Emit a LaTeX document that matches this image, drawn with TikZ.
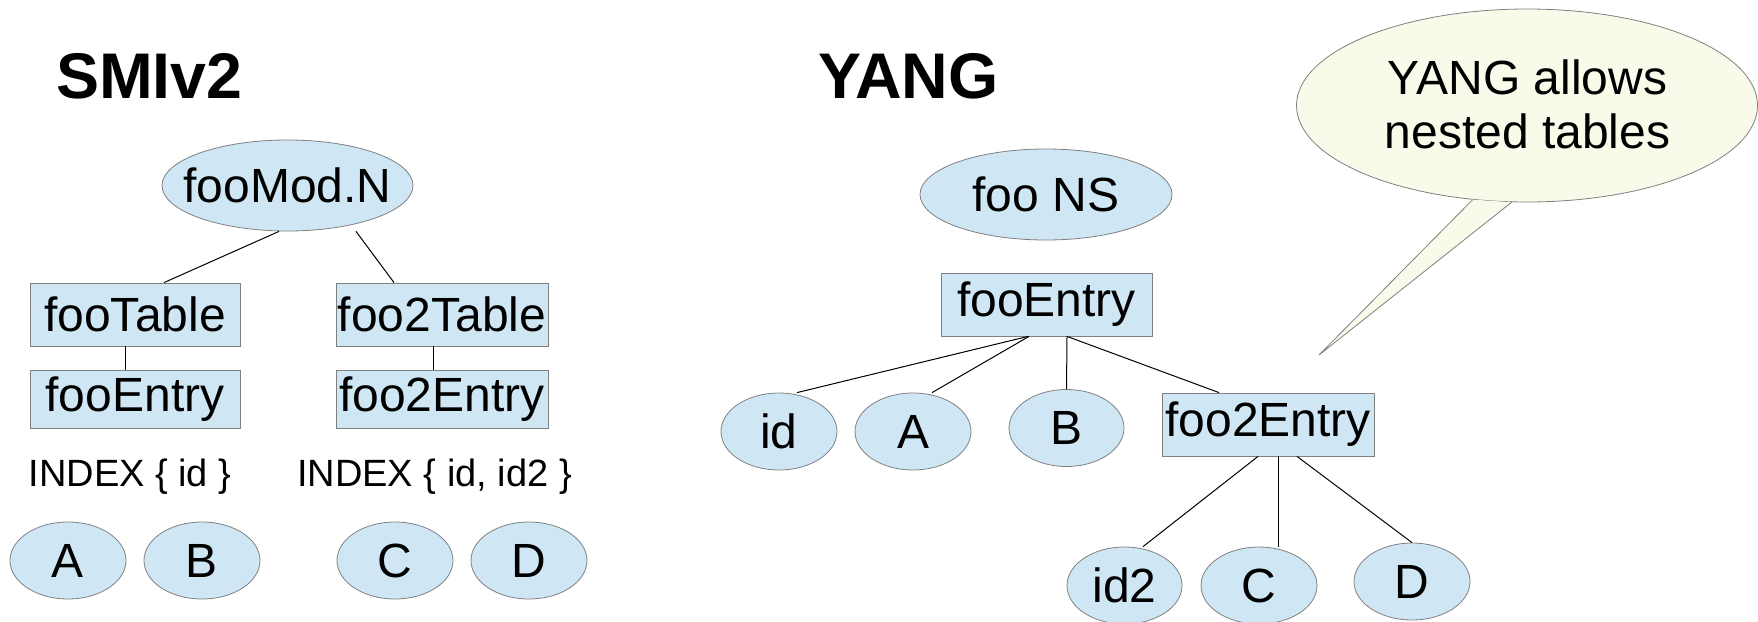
\documentclass[tikz,border=0pt]{standalone}
\usepackage{fontspec}
\setmainfont{Liberation Sans}
\usetikzlibrary{shapes.geometric,calc}
\definecolor{nodefill}{HTML}{CFE7F5}
\definecolor{nodeline}{HTML}{808080}
\definecolor{calloutfill}{HTML}{FAFAEA}
\tikzset{
  ell/.style={ellipse, draw=nodeline, fill=nodefill, line width=0.8pt, inner sep=0pt,
    minimum width=116pt, minimum height=77pt, font=\fontsize{48}{56}\selectfont},
  bigell/.style={ell, minimum width=251pt, minimum height=91pt},
  tbox/.style={rectangle, draw=nodeline, fill=nodefill, line width=0.8pt, inner sep=0pt,
    minimum width=211pt, minimum height=63pt, font=\fontsize{48}{56}\selectfont},
  title/.style={anchor=base west, inner sep=0pt, font=\fontsize{64.5}{72}\selectfont\bfseries},
  idx/.style={anchor=base, inner sep=0pt, font=\fontsize{38}{44}\selectfont},
  conn/.style={draw=black, line width=1pt},
  callout/.style={fill=calloutfill, draw=nodeline, line width=0.8pt, line join=miter}
}
\begin{document}
\begin{tikzpicture}[x=1pt,y=-1pt]
\useasboundingbox (0,0) rectangle (1758,621);
\fill[white] (0,0) rectangle (1758,621);

% titles
\node[title] (smi) at (56,98) {SMIv2};
\node[title] (yang) at (818,98) {YANG};

% ---------- SMIv2 ----------
\node[bigell] (fooMod) at (287.5,185.5) {\makebox[0pt]{fooMod.N}};
\node[tbox, minimum width=210pt] (fooTable) at (135,314.5) {fooTable};
\node[tbox, minimum width=212pt] (foo2Table) at (442,314.5) {foo2Table};
\node[tbox, minimum width=210pt, minimum height=58pt] (fooEntryL) at (135,399) {fooEntry};
\node[tbox, minimum width=212pt, minimum height=58pt] (foo2EntryL) at (442,399) {foo2Entry};
\node[idx] (idx1) at (130,486) {INDEX \{ id \}};
\node[idx] (idx2) at (434.5,486) {INDEX \{ id, id2 \}};
\node[ell] (LA) at (68,560.5) {A};
\node[ell] (LB) at (202,560.5) {B};
\node[ell] (LC) at (395,560.5) {C};
\node[ell] (LD) at (529,560.5) {D};

\draw[conn] ([xshift=-8.5pt]fooMod.south) -- ([xshift=29pt]fooTable.north);
\draw[conn] ([xshift=68.5pt]fooMod.south) -- ([xshift=-48pt]foo2Table.north);
\draw[conn] ([xshift=-10pt]fooTable.south) -- ([xshift=-10pt]fooEntryL.north);
\draw[conn] ([xshift=-9pt]foo2Table.south) -- ([xshift=-9pt]foo2EntryL.north);

% ---------- YANG ----------
\node[bigell, minimum width=252pt] (fooNS) at (1046,194.5) {\makebox[0pt]{foo NS}};
\node[tbox] (fooEntryR) at (1046.5,304.5) {fooEntry};
\node[ell] (Rid) at (779,431.5) {id};
\node[ell] (RA) at (913,431.5) {A};
\node[ell, minimum width=115pt] (RB) at (1066.5,428) {B};
\node[tbox, minimum width=212pt] (foo2EntryR) at (1268,424.5) {foo2Entry};
\node[ell, minimum width=115pt] (Rid2) at (1124.5,585.5) {id2};
\node[ell] (RC) at (1259,585.5) {C};
\node[ell] (RD) at (1412,581.5) {D};

\draw[conn] ([xshift=-18.5pt]fooEntryR.south) -- ([xshift=18pt]Rid.north);
\draw[conn] ([xshift=-17.5pt]fooEntryR.south) -- ([xshift=19pt]RA.north);
\draw[conn] ([xshift=20.5pt]fooEntryR.south) -- (RB.north);
\draw[conn] ([xshift=20.5pt]fooEntryR.south) -- ([xshift=-49pt]foo2EntryR.north);
\draw[conn] ([xshift=-10pt]foo2EntryR.south) -- ([xshift=18.5pt]Rid2.north);
\draw[conn] ([xshift=10pt]foo2EntryR.south) -- ([xshift=19pt]RC.north);
\draw[conn] ([xshift=29pt]foo2EntryR.south) -- (RD.north);

% ---------- callout ----------
\node[ellipse, callout, inner sep=0pt, minimum width=461pt, minimum height=193pt] (bubble) at (1527,105.5) {};
\coordinate (tip) at (1319,355);
\filldraw[callout] (bubble.240.5) -- (tip) -- (bubble.261);
\node[align=center, inner sep=0pt, font=\fontsize{48}{54}\selectfont] (btext) at (1527.5,104) {YANG allows\\nested tables};
\end{tikzpicture}
\end{document}
